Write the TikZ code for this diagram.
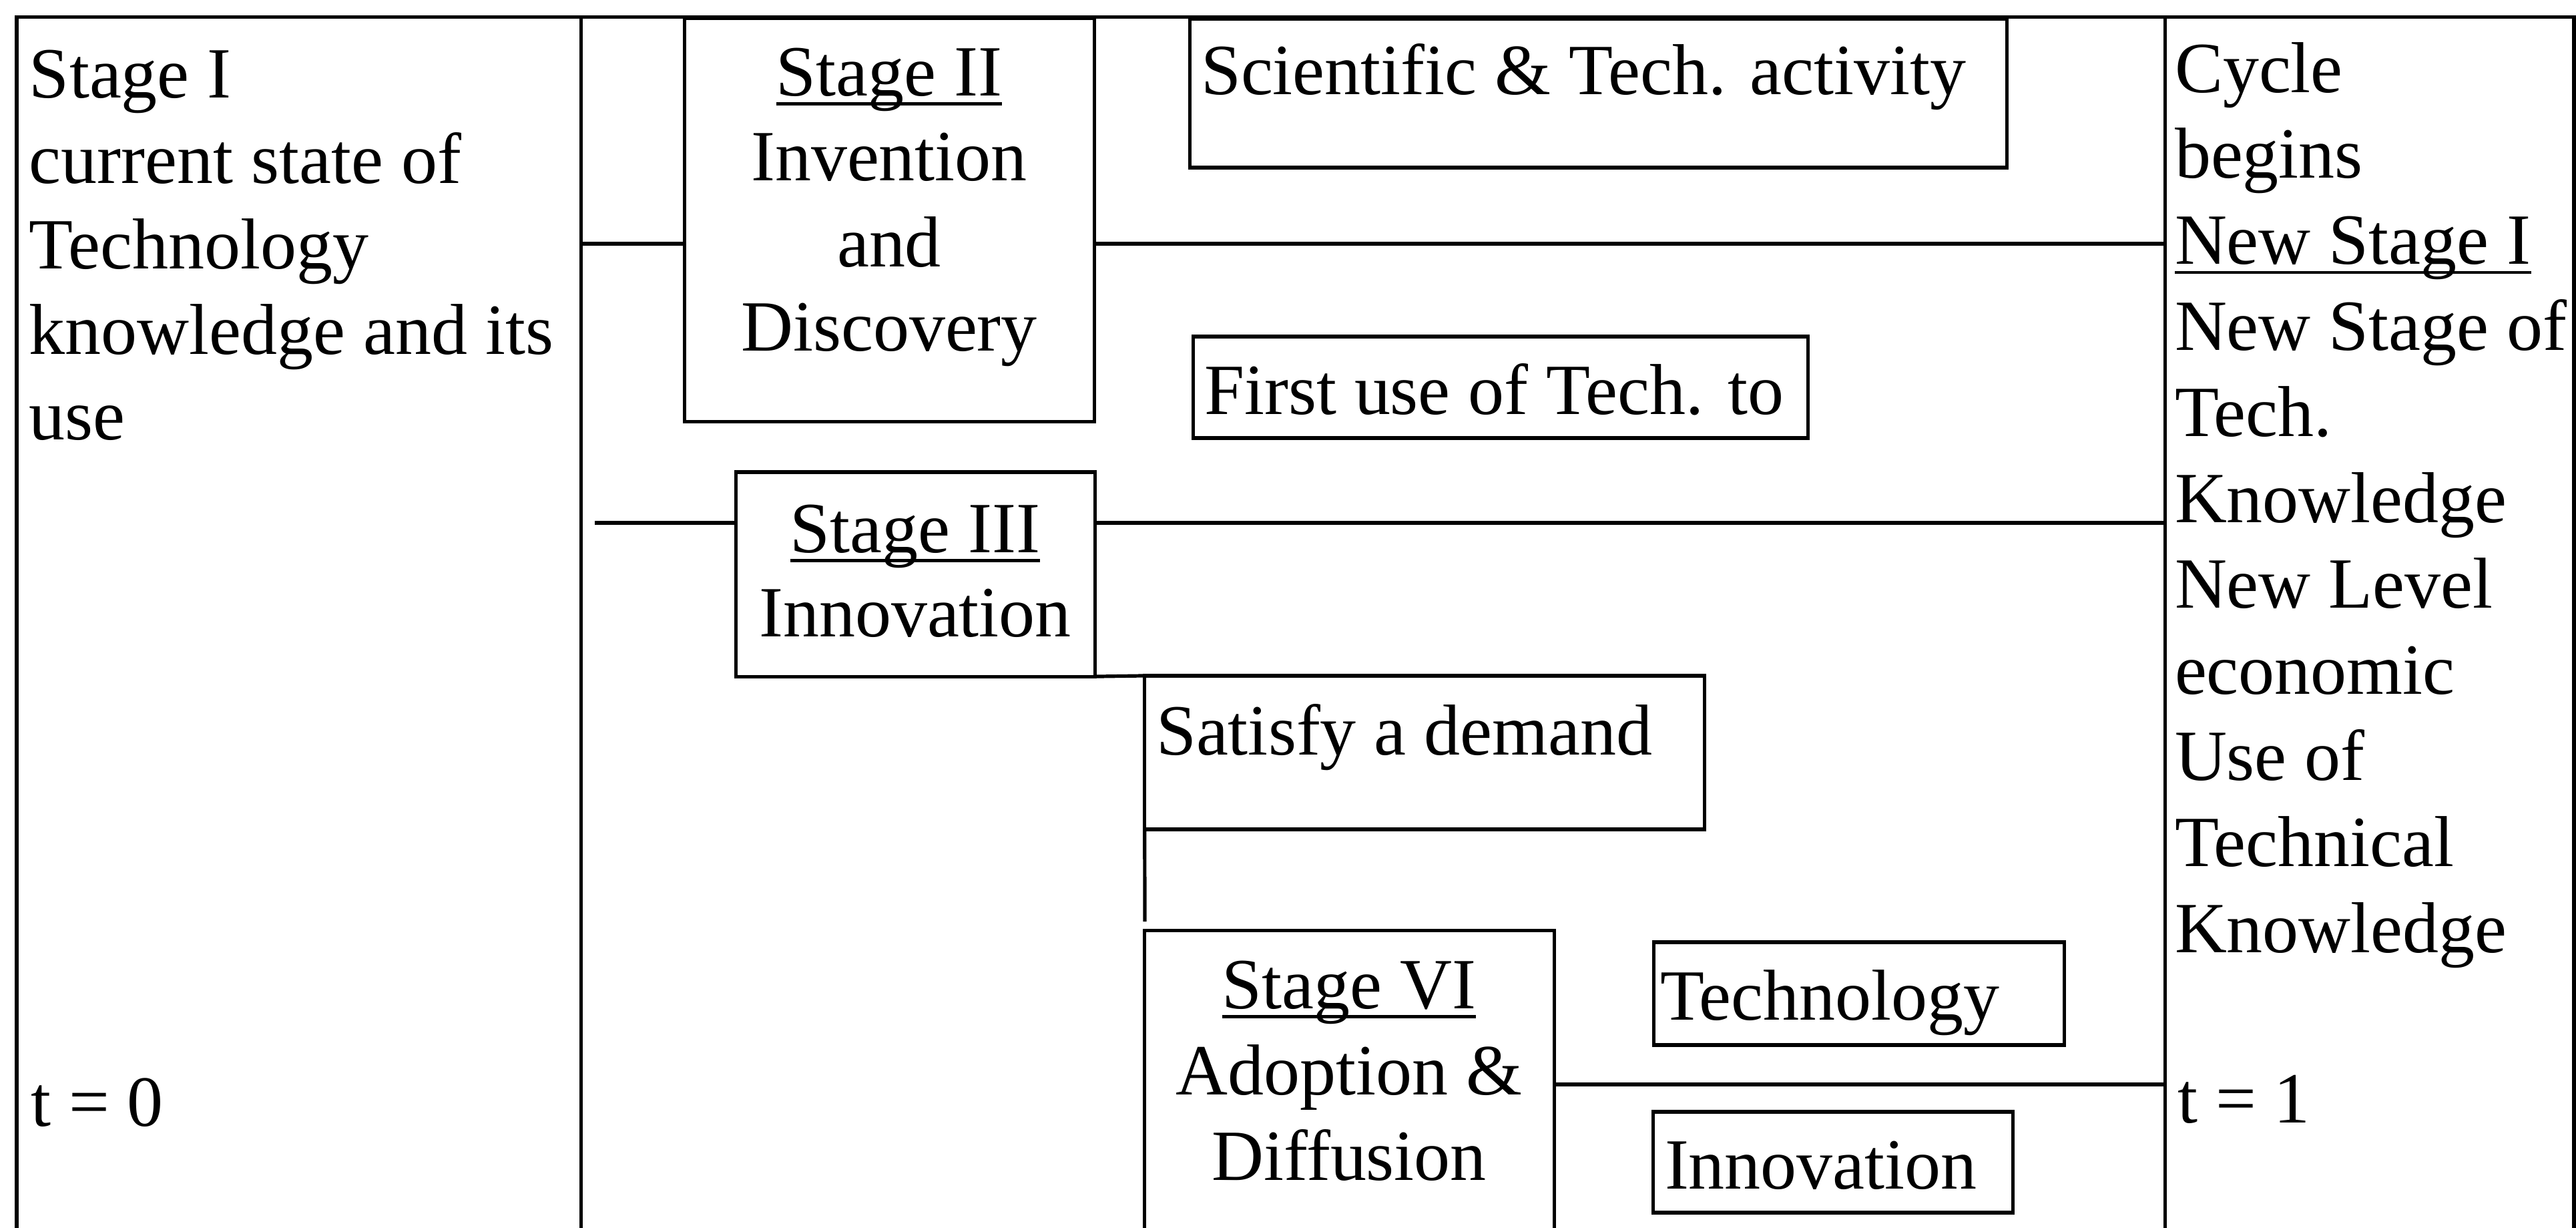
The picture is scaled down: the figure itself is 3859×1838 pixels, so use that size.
\documentclass[tikz,border=0pt]{standalone}
\usepackage{fontspec}
\setmainfont{Liberation Serif}
\newcommand\ulin[1]{\setbox0=\hbox{#1}\rlap{\rule[-0.135em]{\wd0}{0.04em}}\box0}
\begin{document}
\begin{tikzpicture}[x=0.01cm, y=-0.01cm,
  box/.style={draw, line width=0.052cm, inner sep=0, outer sep=0},
  link/.style={line width=0.052cm},
  txt/.style={inner sep=0, outer sep=0, font=\fontsize{30.7}{36}\selectfont}]
\useasboundingbox (0,0) rectangle (3859,1838);

% outer frame and the two side columns (cut off at the bottom edge)
\node[box, minimum width=38.29cm, minimum height=18.24cm] (frame) at (1940.5,938) {};
\node[box, minimum width=8.44cm, minimum height=18.24cm] (colL) at (448,938) {};
\node[box, minimum width=6.11cm, minimum height=18.24cm] (colR) at (3549.5,938) {};

% stage boxes
\node[box, minimum width=6.13cm, minimum height=6.03cm] (s2) at (1332.5,329.5) {};
\node[box, minimum width=12.23cm, minimum height=2.23cm] (sci) at (2394.5,139.5) {};
\node[box, minimum width=9.20cm, minimum height=1.52cm] (first) at (2248,580) {};
\node[box, minimum width=5.37cm, minimum height=3.06cm] (s3) at (1371.5,860) {};
\node[box, minimum width=8.38cm, minimum height=2.30cm] (sat) at (2134,1127) {};
\node[box, minimum width=6.13cm, minimum height=4.56cm] (s6) at (2021.5,1622) {};
\node[box, minimum width=6.14cm, minimum height=1.54cm] (tech) at (2785,1488) {};
\node[box, minimum width=5.38cm, minimum height=1.51cm] (inno) at (2746,1740.5) {};

% left column text
\foreach \t [count=\i] in {Stage I, current state of, Technology, knowledge and its, use}
  \node[txt, anchor=base west] (L\i) at (44,{146+128*(\i-1)}) {\t};
\node[txt, anchor=base west] (t0) at (46,1686) {t = 0};

% right column text
\node[txt, anchor=base west] (R1) at (3258,138) {Cycle};
\node[txt, anchor=base west] (R2) at (3258,266.8) {begins};
\node[txt, anchor=base west] (R3) at (3258,395.6) {\ulin{New Stage I}};
\foreach \t [count=\i from 4] in {New Stage of, Tech., Knowledge, New Level, economic, Use of, Technical, Knowledge}
  \node[txt, anchor=base west] (R\i) at (3258,{138+128.8*(\i-1)}) {\t};
\node[txt, anchor=base west] (t1) at (3262,1681) {t = 1};

% Stage II
\node[txt, anchor=base] (s2a) at (1332,143) {\ulin{Stage II}};
\node[txt, anchor=base] (s2b) at (1332,270) {Invention};
\node[txt, anchor=base] (s2c) at (1332,399) {and};
\node[txt, anchor=base] (s2d) at (1332,525) {Discovery};

% side labels
\node[txt, anchor=base west] (scit) at (1799,141) {Scientific \& Tech. activity};
\node[txt, anchor=base west] (firstt) at (1804,620) {First use of Tech. to};

% Stage III
\node[txt, anchor=base] (s3a) at (1371,827) {\ulin{Stage III}};
\node[txt, anchor=base] (s3b) at (1371,953) {Innovation};

\node[txt, anchor=base west] (satt) at (1732,1130) {Satisfy a demand};

% Stage VI
\node[txt, anchor=base] (s6a) at (2021,1510) {\ulin{Stage VI}};
\node[txt, anchor=base] (s6b) at (2021,1639) {Adoption \&};
\node[txt, anchor=base] (s6c) at (2021,1767) {Diffusion};

\node[txt, anchor=base west] (techt) at (2487,1527) {Technology};
\node[txt, anchor=base west] (innot) at (2494,1780) {Innovation};

% connectors
\coordinate (yA) at (0,365);
\draw[link] (colL.east |- yA) -- (s2.west |- yA);
\draw[link] (s2.east |- yA) -- (colR.west |- yA);
\coordinate (yB) at (891,783);
\draw[link] (yB) -- (s3.west |- yB);
\draw[link] (s3.east |- yB) -- (colR.west |- yB);
\draw[link] (s3.south east) -- (sat.north west);
\coordinate (satTail) at (1715,1380);
\draw[link] (sat.south west) -- (satTail);
\coordinate (yC) at (0,1624);
\draw[link] (s6.east |- yC) -- (colR.west |- yC);
\end{tikzpicture}
\end{document}
